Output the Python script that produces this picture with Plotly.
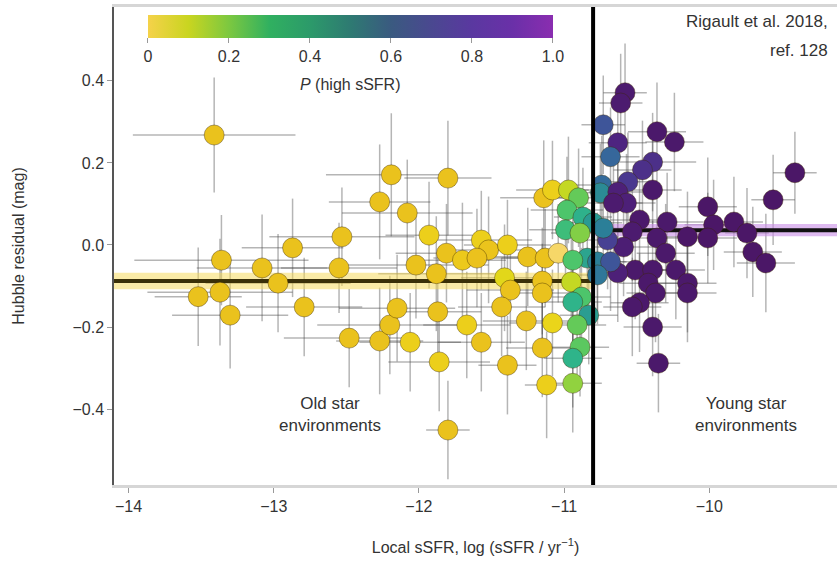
import plotly.graph_objects as go

# ---- data ----
ssfr = [-13.41, -13.36, -13.08, -12.87, -12.97, -12.53, -12.55, -12.27, -12.19, -12.08,
        -13.52, -13.37, -13.30, -12.79, -12.48, -12.27, -12.20, -12.15, -11.93, -11.80,
        -12.02, -11.88, -11.81, -11.70, -11.57, -11.52, -11.60, -11.39, -11.25, -11.13,
        -11.04, -11.14, -11.08, -10.97, -10.90, -10.98, -10.87, -10.80, -10.99, -10.89,
        -10.84, -10.94, -10.77, -12.06, -11.87, -11.86, -11.67, -11.57, -11.80, -11.41,
        -11.37, -11.43, -11.39, -11.26, -11.15, -11.15, -11.08, -11.15, -11.12, -10.95,
        -10.88, -10.94, -10.83, -10.91, -10.89, -10.94, -10.94,
        -10.58, -10.61, -10.73, -10.63, -10.68, -10.36, -10.24, -10.39, -10.46, -10.56,
        -10.74, -10.75, -10.63, -10.39, -10.57, -10.66, -10.48, -10.29, -10.01, -9.97,
        -9.83, -9.74, -9.56, -9.41, -10.15, -10.01, -9.70, -9.61, -10.53, -10.36,
        -10.59, -10.70, -10.73, -10.30, -10.23, -10.51, -10.63, -10.68, -10.39, -10.42,
        -10.37, -10.15, -10.15, -10.48, -10.53, -10.39, -10.35, -10.77]
hubble_res = [0.268, -0.037, -0.056, -0.007, -0.093, 0.020, -0.056, 0.105, 0.171, 0.078,
              -0.126, -0.115, -0.171, -0.151, -0.227, -0.234, -0.195, -0.154, 0.024, 0.163,
              -0.049, -0.070, -0.020, -0.037, 0.012, -0.012, -0.032, 0.000, -0.029, -0.032,
              -0.020, 0.115, 0.134, 0.134, 0.115, 0.085, 0.068, 0.054, 0.037, 0.029,
              -0.032, -0.037, -0.041, -0.237, -0.163, -0.285, -0.195, -0.237, -0.451, -0.080,
              -0.110, -0.151, -0.293, -0.185, -0.088, -0.117, -0.190, -0.251, -0.341, -0.090,
              -0.127, -0.139, -0.171, -0.195, -0.249, -0.276, -0.337,
              0.371, 0.346, 0.293, 0.249, 0.215, 0.276, 0.251, 0.202, 0.183, 0.154,
              0.146, 0.127, 0.129, 0.134, 0.102, 0.102, 0.061, 0.056, 0.093, 0.049,
              0.056, 0.029, 0.110, 0.176, 0.020, 0.017, -0.017, -0.044, 0.032, 0.017,
              -0.005, 0.012, 0.041, -0.020, -0.061, -0.061, -0.068, -0.041, -0.061, -0.093,
              -0.117, -0.093, -0.117, -0.141, -0.151, -0.200, -0.288, -0.073]
p_high = [0.05, 0.05, 0.05, 0.05, 0.05, 0.05, 0.05, 0.05, 0.05, 0.05,
          0.05, 0.05, 0.05, 0.05, 0.05, 0.05, 0.05, 0.05, 0.12, 0.05,
          0.05, 0.05, 0.05, 0.10, 0.12, 0.08, 0.06, 0.12, 0.05, 0.06,
          0.00, 0.06, 0.12, 0.25, 0.40, 0.45, 0.56, 0.63, 0.50, 0.35,
          0.60, 0.45, 0.72, 0.12, 0.05, 0.12, 0.12, 0.05, 0.05, 0.18,
          0.05, 0.05, 0.05, 0.05, 0.05, 0.05, 0.15, 0.05, 0.12, 0.25,
          0.45, 0.55, 0.62, 0.40, 0.42, 0.55, 0.33,
          0.97, 0.97, 0.82, 0.93, 0.78, 0.98, 0.98, 0.90, 0.90, 0.88,
          0.77, 0.68, 0.95, 0.98, 0.95, 0.97, 0.98, 0.98, 0.99, 0.99,
          0.99, 0.99, 0.99, 0.99, 0.99, 0.99, 0.99, 0.99, 0.97, 0.98,
          0.96, 0.86, 0.72, 0.98, 0.98, 0.98, 0.95, 0.82, 0.98, 0.98,
          0.98, 0.98, 0.98, 0.98, 0.98, 0.98, 0.98, 0.74]
ssfr_err = [0.56, 0.60, 0.45, 0.35, 0.50, 0.50, 0.40, 0.35, 0.45, 0.45,
            0.30, 0.50, 0.40, 0.40, 0.45, 0.30, 0.50, 0.40, 0.30, 0.30,
            0.50, 0.40, 0.35, 0.30, 0.35, 0.25, 0.30, 0.30, 0.30, 0.30,
            0.25, 0.30, 0.25, 0.20, 0.20, 0.25, 0.20, 0.20, 0.25, 0.20,
            0.20, 0.20, 0.20, 0.35, 0.30, 0.35, 0.30, 0.30, 0.15, 0.30,
            0.30, 0.30, 0.20, 0.30, 0.25, 0.25, 0.30, 0.25, 0.15, 0.20,
            0.20, 0.20, 0.20, 0.20, 0.20, 0.20, 0.20,
            0.15, 0.15, 0.15, 0.20, 0.20, 0.20, 0.20, 0.30, 0.20, 0.20,
            0.20, 0.20, 0.20, 0.20, 0.20, 0.20, 0.20, 0.25, 0.20, 0.20,
            0.20, 0.15, 0.15, 0.15, 0.20, 0.20, 0.20, 0.20, 0.20, 0.20,
            0.20, 0.20, 0.20, 0.20, 0.20, 0.20, 0.20, 0.20, 0.20, 0.20,
            0.20, 0.20, 0.20, 0.20, 0.20, 0.20, 0.15, 0.20]
res_err = [0.14, 0.11, 0.13, 0.12, 0.12, 0.12, 0.11, 0.14, 0.15, 0.13,
           0.12, 0.13, 0.13, 0.12, 0.12, 0.13, 0.12, 0.13, 0.13, 0.14,
           0.13, 0.14, 0.12, 0.14, 0.12, 0.13, 0.12, 0.11, 0.12, 0.12,
           0.12, 0.14, 0.12, 0.13, 0.12, 0.13, 0.12, 0.12, 0.12, 0.11,
           0.12, 0.12, 0.12, 0.12, 0.13, 0.12, 0.13, 0.12, 0.12, 0.13,
           0.13, 0.12, 0.12, 0.12, 0.13, 0.12, 0.13, 0.12, 0.13, 0.12,
           0.12, 0.12, 0.12, 0.12, 0.12, 0.12, 0.12,
           0.12, 0.12, 0.12, 0.12, 0.12, 0.12, 0.12, 0.12, 0.12, 0.12,
           0.12, 0.12, 0.12, 0.12, 0.12, 0.12, 0.12, 0.12, 0.12, 0.11,
           0.11, 0.11, 0.11, 0.10, 0.11, 0.11, 0.11, 0.12, 0.12, 0.12,
           0.12, 0.12, 0.12, 0.12, 0.12, 0.12, 0.12, 0.12, 0.12, 0.12,
           0.12, 0.12, 0.12, 0.12, 0.12, 0.12, 0.12, 0.12]

split_ssfr = -10.8
low_mean, low_err = -0.088, 0.02
high_mean, high_err = 0.036, 0.015
x_range = [-14.10, -9.12]
y_range = [-0.585, 0.58]
x_ticks = [-14, -13, -12, -11, -10]
y_ticks = [-0.4, -0.2, 0.0, 0.2, 0.4]
cbar_ticks = [0, 0.2, 0.4, 0.6, 0.8, 1.0]
cbar_ticktext = ["0", "0.2", "0.4", "0.6", "0.8", "1.0"]

FONT = "Liberation Sans, Arial, Helvetica, sans-serif"

point_scale = [[0.0, "#f6d768"], [0.03, "#eac01e"], [0.08, "#ebc41c"], [0.14, "#edd41a"],
               [0.22, "#d6da1a"], [0.3, "#a6d533"], [0.38, "#6dcc52"], [0.46, "#48c46e"],
               [0.55, "#2fb48a"], [0.63, "#2a9a92"], [0.72, "#2b7f98"], [0.8, "#3a5f9c"],
               [0.87, "#493c92"], [0.93, "#4e2480"], [1.0, "#4a1563"]]
bar_scale = [[0.0, "#f5d24a"], [0.1, "#c9d520"], [0.2, "#7cc840"], [0.3, "#30b060"],
             [0.4, "#2c9a6a"], [0.5, "#2e7a72"], [0.6, "#3a5a80"], [0.7, "#4a4890"],
             [0.8, "#5a38a0"], [0.9, "#6a30a8"], [1.0, "#8a2db0"]]

fig = go.Figure()

# error bars (drawn beneath everything else)
fig.add_trace(go.Scatter(
    x=ssfr, y=hubble_res, mode="markers",
    marker=dict(size=1, opacity=0),
    error_x=dict(type="data", array=ssfr_err, color="rgba(70,70,70,0.4)", thickness=1.5, width=0),
    error_y=dict(type="data", array=res_err, color="rgba(70,70,70,0.4)", thickness=1.5, width=0),
    showlegend=False, hoverinfo="skip"))

# mean bands and lines
fig.add_trace(go.Scatter(
    x=[x_range[0], split_ssfr, split_ssfr, x_range[0], x_range[0]],
    y=[low_mean - low_err, low_mean - low_err, low_mean + low_err, low_mean + low_err, low_mean - low_err],
    fill="toself", fillcolor="rgba(245,215,80,0.5)", line=dict(width=0), mode="lines",
    showlegend=False, hoverinfo="skip"))
fig.add_trace(go.Scatter(
    x=[split_ssfr, x_range[1], x_range[1], split_ssfr, split_ssfr],
    y=[high_mean - high_err, high_mean - high_err, high_mean + high_err, high_mean + high_err, high_mean - high_err],
    fill="toself", fillcolor="rgba(200,140,230,0.6)", line=dict(width=0), mode="lines",
    showlegend=False, hoverinfo="skip"))
fig.add_trace(go.Scatter(x=[x_range[0], split_ssfr], y=[low_mean, low_mean], mode="lines",
                         line=dict(color="#3a3008", width=4), showlegend=False, hoverinfo="skip"))
fig.add_trace(go.Scatter(x=[split_ssfr, x_range[1]], y=[high_mean, high_mean], mode="lines",
                         line=dict(color="#111111", width=4), showlegend=False, hoverinfo="skip"))

# points
fig.add_trace(go.Scatter(
    x=ssfr, y=hubble_res, mode="markers",
    marker=dict(size=20, color=p_high, colorscale=point_scale, cmin=0, cmax=1,
                line=dict(color="rgba(60,40,0,0.4)", width=1), showscale=False),
    showlegend=False))

# colourbar (dummy trace)
fig.add_trace(go.Scatter(
    x=[None], y=[None], mode="markers",
    marker=dict(color=[0], colorscale=bar_scale, cmin=0, cmax=1, showscale=True,
                colorbar=dict(orientation="h", x=0.047, xanchor="left", y=0.983, yanchor="top",
                              len=0.56, lenmode="fraction", thickness=23, xpad=0, ypad=0,
                              outlinewidth=0, ticks="outside", ticklen=5, tickcolor="#999",
                              tickvals=cbar_ticks, ticktext=cbar_ticktext,
                              tickfont=dict(family=FONT, size=16, color="#333"))),
    showlegend=False, hoverinfo="skip"))

# split line
fig.add_shape(type="line", x0=split_ssfr, x1=split_ssfr, xref="x", y0=0, y1=1, yref="paper",
              line=dict(color="black", width=4))

ann_font = dict(family=FONT, size=17, color="#333")
fig.add_annotation(x=0.327, y=0.837, xref="paper", yref="paper", xanchor="center", yanchor="middle",
                   text="<i>P</i> (high sSFR)", showarrow=False,
                   font=dict(family=FONT, size=16, color="#333"))
fig.add_annotation(x=0.99, y=0.969, xref="paper", yref="paper", xanchor="right", yanchor="middle",
                   text="Rigault et al. 2018,", showarrow=False, font=ann_font)
fig.add_annotation(x=0.99, y=0.910, xref="paper", yref="paper", xanchor="right", yanchor="middle",
                   text="ref. 128", showarrow=False, font=ann_font)
fig.add_annotation(x=-12.61, y=-0.413, text="Old star<br>environments", showarrow=False,
                   align="center", font=ann_font)
fig.add_annotation(x=-9.75, y=-0.413, text="Young star<br>environments", showarrow=False,
                   align="center", font=ann_font)

fig.update_layout(
    width=837, height=567,
    margin=dict(l=114, r=0, t=7, b=82),
    paper_bgcolor="white", plot_bgcolor="white",
    font=dict(family=FONT, size=16, color="#333"),
    xaxis=dict(range=x_range, tickvals=x_ticks, ticks="outside", ticklen=5, tickcolor="#999",
               showgrid=False, zeroline=False, showline=True, linecolor="#d6d6d6", linewidth=3,
               mirror=True, tickfont=dict(size=16),
               title=dict(text="Local sSFR, log (sSFR / yr<sup>−1</sup>)", standoff=28,
                          font=dict(size=16))),
    yaxis=dict(range=y_range, tickvals=y_ticks, tickformat=".1f", ticks="outside", ticklen=5,
               tickcolor="#999", showgrid=False, zeroline=False, showline=True, linecolor="#555",
               linewidth=1.5, tickfont=dict(size=16),
               title=dict(text="Hubble residual (mag)", standoff=44, font=dict(size=16))),
)

fig.write_html("out.html", config={"displayModeBar": False},
               post_script="document.body.style.margin='0px';")
